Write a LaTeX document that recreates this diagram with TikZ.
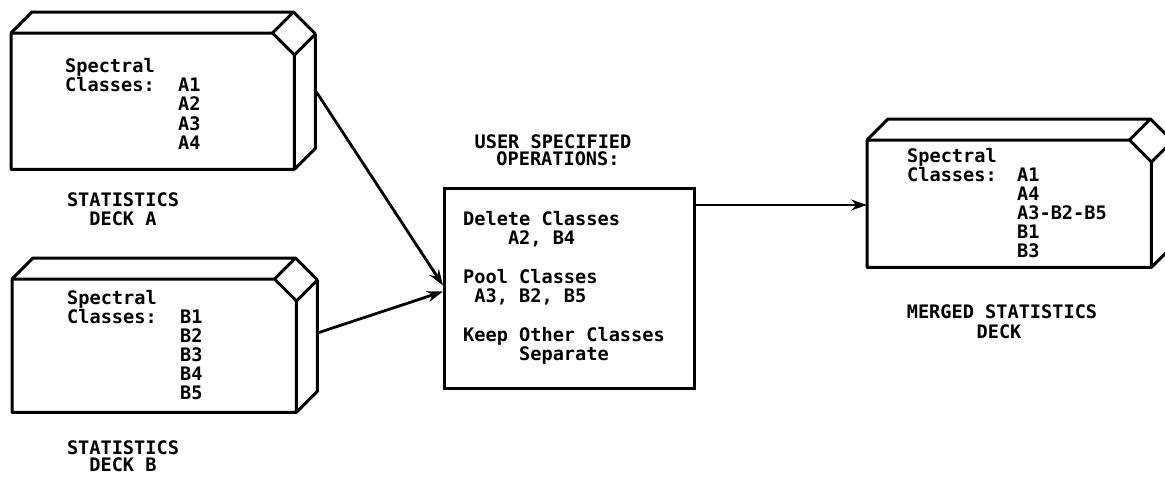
\documentclass[tikz,border=0pt]{standalone}
\usepackage{fontspec}
\setmonofont{DejaVu Sans Mono}
\usetikzlibrary{arrows.meta, calc, positioning}

\tikzset{
  txt/.style={font=\ttfamily\bfseries\fontsize{18.6}{19}\selectfont, inner sep=0pt, anchor=base west},
  caption/.style={txt, anchor=base},
  face/.style={rectangle, inner sep=0pt, anchor=north west},
  outline/.style={line width=3pt, line join=round},
  arr/.style={line width=2.8pt, -{Stealth[length=16pt,width=11pt]}}
}

% front face node -> deck outline with top, chamfer and side
\newcommand{\deckshape}[1]{%
  \draw[outline] (#1.north west) -- ($(#1.north east)+(-22,0)$) -- ($(#1.north east)+(0,22)$)
     -- (#1.south east) -- (#1.south west) -- cycle;
  \draw[outline] (#1.north west) -- ++(21,-21) -- ($(#1.north east)+(-1,-21)$) -- ($(#1.north east)+(-22,0)$);
  \draw[outline] ($(#1.north east)+(-1,-21)$) -- ($(#1.north east)+(21,1)$) -- ($(#1.north east)+(0,22)$);
  \draw[outline] ($(#1.north east)+(21,1)$) -- ($(#1.south east)+(21,-21)$) -- (#1.south east);
}

\begin{document}
\begin{tikzpicture}[x=1pt, y=-1pt]
\useasboundingbox (0,0) rectangle (1165,479);

%Decks (front faces)
\node[face, minimum width=283pt, minimum height=136pt] (deckA) at (11,33) {};
\node[face, minimum width=284pt, minimum height=133pt] (deckB) at (12,279) {};
\node[face, minimum width=284pt, minimum height=127pt] (merged) at (867,140) {};
\deckshape{deckA}
\deckshape{deckB}
\deckshape{merged}

%Operations box
\node[face, draw, line width=3pt, minimum width=250pt, minimum height=200pt] (mid) at (443,187) {};

%Deck contents
\foreach [count=\i from 0] \t in {Spectral,Classes:}
{
  \node[txt] (deckA-h\i) at ($(deckA.north west)+(54,{39+\i*19.3})$) {\t};
  \node[txt] (deckB-h\i) at ($(deckB.north west)+(55,{25.5+\i*19})$) {\t};
  \node[txt] (merged-h\i) at ($(merged.north west)+(40,{22.5+\i*19})$) {\t};
}
\foreach [count=\i from 0] \t in {A1,A2,A3,A4}
  \node[txt] (deckA-c\i) at ($(deckA.north west)+(167,{58.5+\i*19.3})$) {\t};
\foreach [count=\i from 0] \t in {B1,B2,B3,B4,B5}
  \node[txt] (deckB-c\i) at ($(deckB.north west)+(168,{44.5+\i*19})$) {\t};
\foreach [count=\i from 0] \t in {A1,A4,A3-B2-B5,B1,B3}
  \node[txt] (merged-c\i) at ($(merged.north west)+(150,{41.5+\i*19})$) {\t};

%Operations text
\foreach [count=\i] \t/\x/\y in {Delete Classes/0/38, {A2, B4}/4/57, Pool Classes/0/96,
    {A3, B2, B5}/1/115, Keep Other Classes/0/154, Separate/5/173}
  \node[txt] (op\i) at ($(mid.north west)+({20+\x*11.2},\y)$) {\t};

%Captions
\node[caption] (capA1) at (123,206) {STATISTICS};
\node[caption] (capA2) at (123,225) {DECK A};
\node[caption] (capB1) at (123,454) {STATISTICS};
\node[caption] (capB2) at (123,471) {DECK B};
\node[caption] (capU1) at (553,148) {USER SPECIFIED};
\node[caption] (capU2) at (558,165) {OPERATIONS:};
\node[caption] (capM1) at (1002,318) {MERGED STATISTICS};
\node[caption] (capM2) at (999,338) {DECK};

%Connectors
\coordinate (outA) at ($(deckA.north east)+(22,59)$);
\coordinate (outB) at ($(deckB.north east)+(21,54)$);
\coordinate (outM) at ($(mid.north east)+(0,18)$);
\draw[arr] (outA) -- ([yshift=3pt]mid.west);
\draw[arr] (outB) -- ([yshift=-3pt]mid.west);
\draw[arr] (outM) -- (outM -| merged.west);
\end{tikzpicture}
\end{document}
